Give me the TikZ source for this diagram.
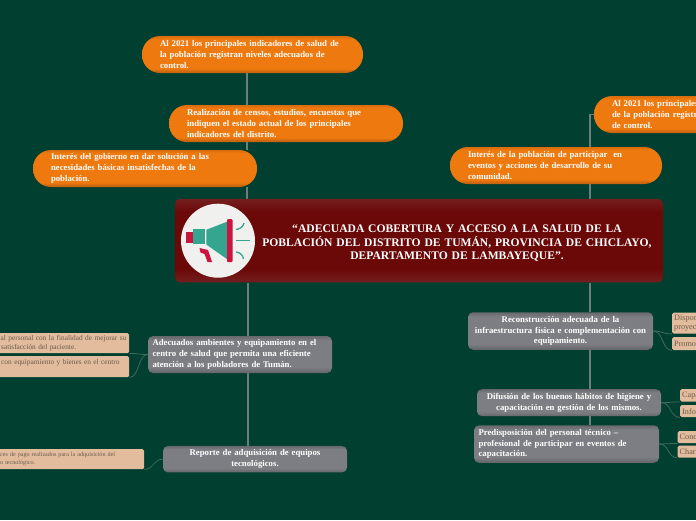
\documentclass[tikz,border=0pt]{standalone}
\usepackage{fontspec}
\setmainfont{Liberation Serif}
\usetikzlibrary{calc}
\definecolor{bgc}{HTML}{013F30}
\definecolor{trunkc}{HTML}{6E7E7C}
\definecolor{leafl}{HTML}{3F6A5E}
\definecolor{orm}{HTML}{EE790E}
\definecolor{ore}{HTML}{C9650F}
\definecolor{grm}{HTML}{7D7E83}
\definecolor{gre}{HTML}{66686C}
\definecolor{rdm}{HTML}{6B0808}
\definecolor{rde}{HTML}{751F1F}
\definecolor{tanc}{HTML}{E2BC9D}
\definecolor{tant}{HTML}{6B5B4B}
\definecolor{teal}{HTML}{35A58F}
\definecolor{crim}{HTML}{C9153F}
\definecolor{paper}{HTML}{F0F1EE}
\pgfdeclareverticalshading{orsh}{100bp}{color(0bp)=(ore); color(27bp)=(ore); color(31bp)=(orm); color(71bp)=(orm); color(75bp)=(ore!60!orm); color(100bp)=(ore!60!orm)}
\pgfdeclareverticalshading{grsh}{100bp}{color(0bp)=(gre); color(26bp)=(gre); color(33bp)=(grm); color(69bp)=(grm); color(75bp)=(gre); color(100bp)=(gre)}
\pgfdeclareverticalshading{rdsh}{100bp}{color(0bp)=(rde); color(25bp)=(rde); color(33bp)=(rdm); color(67bp)=(rdm); color(75bp)=(rde); color(100bp)=(rde)}
\pgfdeclarelayer{paperlayer}
\pgfdeclarelayer{conn}
\pgfsetlayers{paperlayer,conn,main}
\tikzset{
  x=1pt,y=-1pt,
  box/.style={rectangle,align=left,inner ysep=0pt,text=white,font=\bfseries\fontsize{8.75}{10.7}\selectfont},
  pill/.style={box,shading=orsh,rounded corners=18pt,inner xsep=18pt,minimum height=37pt},
  slab/.style={box,shading=grsh,rounded corners=5pt,inner xsep=4.5pt},
  leaf/.style={rectangle,draw=none,fill=tanc,rounded corners=1.5pt,align=left,inner ysep=0pt,inner xsep=2pt,text=tant,anchor=north west,font=\fontsize{7.35}{8.8}\selectfont},
  rleaf/.style={leaf,font=\fontsize{8.2}{9}\selectfont},
  trunk/.style={draw=trunkc,line width=1.6pt},
  twig/.style={draw=leafl,line width=.8pt},
}
\newcommand{\twigto}[2]{\draw[twig] (#1) .. controls ($(#1)!.55!(#1 -| #2)$) and ($(#2)!.55!(#2 -| #1)$) .. (#2);}
\begin{document}
\begin{tikzpicture}
\useasboundingbox (0,0) rectangle (696,520);
\clip (0,0) rectangle (696,520);
\begin{pgfonlayer}{paperlayer}
\fill[bgc] (0,0) rectangle (696,520);
\end{pgfonlayer}
\coordinate (hubL) at (247,240);
\coordinate (hubD) at (248,300);
\coordinate (hubR) at (590,300);
% orange
\node[pill,text width=185pt] (o1) at (252.5,54.5) {Al 2021 los principales indicadores de salud de\\la población registran niveles adecuados de\\control.};
\node[pill,text width=198pt] (o2) at (286,123.5) {Realización de censos, estudios, encuestas que\\indiquen el estado actual de los principales\\indicadores del distrito.};
\node[pill,text width=188pt] (o3) at (145,168.5) {Interés del gobierno en dar solución a las\\necesidades básicas insatisfechas de la\\población.};
\node[pill,text width=200pt] (o4) at (712,114.5) {Al 2021 los principales indicadores de salud\\de la población registran niveles adecuados\\de control.};
\node[pill,text width=176pt] (o5) at (556,165.5) {Interés de la población de participar\ \ en\\eventos y acciones de desarrollo de su\\comunidad.};
% centre
\node[box,shading=rdsh,rounded corners=5pt,minimum width=488pt,minimum height=83.5pt,inner xsep=0pt,text width=488pt,align=center,font=\bfseries\fontsize{11.6}{13.5}\selectfont] (c) at (419,240.7) {\rule{0pt}{13pt}\hspace*{76pt}“ADECUADA COBERTURA Y ACCESO A LA SALUD DE LA\\\hspace*{76pt}POBLACIÓN DEL DISTRITO DE TUMÁN, PROVINCIA DE CHICLAYO,\\\hspace*{76pt}DEPARTAMENTO DE LAMBAYEQUE”.};
% grey
\node[slab,text width=175pt,minimum height=37pt] (g1) at (240,354.5) {Adecuados ambientes y equipamiento en el\\centro de salud que permita una eficiente\\atención a los pobladores de Tumán.};
\node[slab,text width=175pt,minimum height=26.5pt,align=center] (g2) at (255,459.2) {Reporte de adquisición de equipos\\tecnológicos.};
\node[slab,text width=176pt,minimum height=37.5pt,align=center] (r1) at (560.5,331) {Reconstrucción adecuada de la\\infraestructura física e complementación con\\equipamiento.};
\node[slab,text width=175pt,minimum height=27pt,align=center] (r2) at (569,402.7) {Difusión de los buenos hábitos de higiene y\\capacitación en gestión de los mismos.};
\node[slab,text width=176pt,minimum height=37.5pt] (r3) at (566.5,444) {Predisposición del personal técnico –\\profesional de participar en eventos de\\capacitación.};
% tan leaves
\node[leaf,text width=139pt,minimum height=20pt,inner xsep=0pt] (l1) at (-10,333) {\hspace*{10.5pt}al personal con la finalidad de mejorar su\\\hspace*{11pt}satisfacción del paciente.};
\node[leaf,text width=139pt,minimum height=21pt,inner xsep=0pt] (l2) at (-10,356) {\hspace*{11pt}con equipamiento y bienes en el centro\\\mbox{}};
\node[leaf,text width=154pt,minimum height=20pt,inner xsep=0pt,font=\fontsize{6.1}{7.8}\selectfont] (l3) at (-10,449) {\hspace*{10pt}ces de pago realizados para la adquisición del\\\hspace*{10pt}o tecnológico.};
\node[rleaf,text width=40pt,minimum height=21pt] (a1) at (672,312.5) {Dispor\\proyec};
\node[rleaf,text width=40pt,minimum height=13pt] (a2) at (672,337) {Promo};
\node[rleaf,text width=40pt,minimum height=12.5pt] (a3) at (680,389) {Capa};
\node[rleaf,text width=40pt,minimum height=12pt] (a4) at (680,405) {Info};
\node[rleaf,text width=40pt,minimum height=12pt] (a5) at (677.5,431) {Conc};
\node[rleaf,text width=40pt,minimum height=12pt] (a6) at (677.5,445.5) {Charl};
% connectors
\begin{pgfonlayer}{conn}
\draw[trunk] (o1.south -| hubL) -- (o2.north -| hubL);
\draw[trunk] (o2.south -| hubL) -- (o3.north -| hubL);
\draw[trunk] (o3.south -| hubL) -- (c.north -| hubL);
\draw[trunk] (c.south -| hubD) -- (g1.north -| hubD);
\draw[trunk] (g1.south -| hubD) -- (g2.north -| hubD);
\draw[trunk] (c.south -| hubR) -- (r1.north -| hubR);
\draw[trunk] (r1.south -| hubR) -- (r2.north -| hubR);
\draw[trunk] (r2.south -| hubR) -- (r3.north -| hubR);
\draw[trunk] (c.north -| hubR) -- (o5.south -| hubR);
\draw[trunk] (o5.north -| hubR) |- (o4.west);
\twigto{g1.west}{l1.south east}
\twigto{g1.west}{l2.south east}
\twigto{g2.west}{l3.south east}
\twigto{r1.east}{a1.south west}
\twigto{r1.east}{a2.south west}
\twigto{r2.east}{a3.south west}
\twigto{r2.east}{a4.south west}
\twigto{r3.east}{a5.south west}
\twigto{r3.east}{a6.south west}
\end{pgfonlayer}
% megaphone
\node[circle,fill=paper,minimum size=74pt,inner sep=0pt] (icon) at (218,240.7) {};
\fill[teal] (193,229.3) rectangle (205.3,243.5);
\fill[teal] (206.3,229.8) -- (227.5,221.5) -- (227.5,259.5) -- (206.3,244.5) -- cycle;
\fill[crim] (186,232.3) rectangle (193,243);
\fill[crim,rounded corners=1pt] (227,219) rectangle (232.5,262);
\fill[crim] (199.5,248) -- (208,250) -- (212,262) -- (207.5,262) -- (204.5,254) -- (200.5,252.5) -- cycle;
\draw[teal,line width=1.3pt] (236,229.5) .. controls (240,229) and (243,227) .. (244,223);
\draw[teal,line width=1.3pt] (236,240.4) -- (250,240.4);
\draw[teal,line width=1.3pt] (236,252) .. controls (240,252.5) and (243,255) .. (243.5,259);
\end{tikzpicture}
\end{document}
